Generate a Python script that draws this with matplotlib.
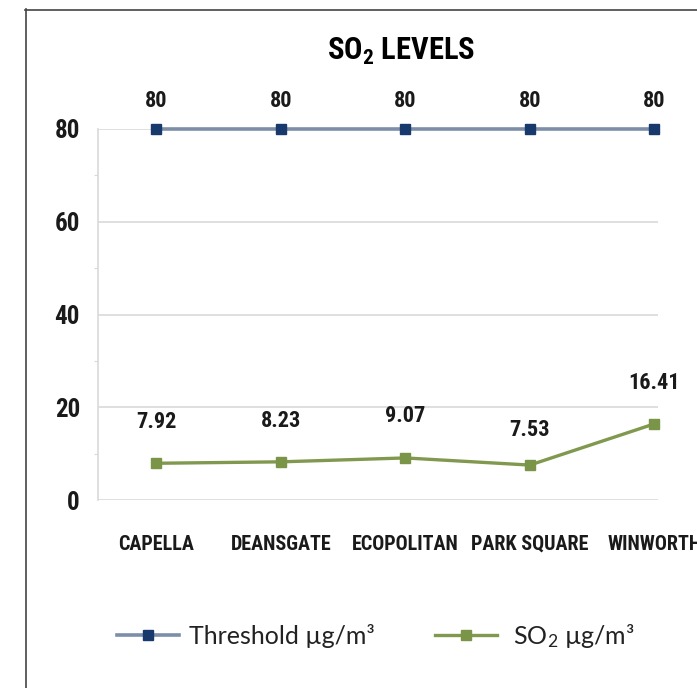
import matplotlib
matplotlib.use("Agg")
import matplotlib.pyplot as plt
from matplotlib.lines import Line2D
from matplotlib import font_manager

categories = ["CAPELLA", "DEANSGATE", "ECOPOLITAN", "PARK SQUARE", "WINWORTH"]
threshold = [80, 80, 80, 80, 80]
so2 = [7.92, 8.23, 9.07, 7.53, 16.41]
yticks = [0, 20, 40, 60, 80]

plt.rcParams['mathtext.default'] = 'regular'

fonts = font_manager.fontManager.ttflist
names = {f.name for f in fonts}
COND_STRETCH = 'normal'
COND = ['DejaVu Sans']
for cand in ['Liberation Sans Narrow', 'Roboto Condensed', 'Open Sans Condensed',
             'DejaVu Sans Condensed', 'Noto Sans Condensed']:
    if cand in names:
        COND = [cand, 'DejaVu Sans']
        break
else:
    if any(f.name == 'DejaVu Sans' and f.stretch == 'condensed' for f in fonts):
        COND = ['DejaVu Sans']
        COND_STRETCH = 'condensed'
    elif any(f.name == 'Roboto' and str(f.stretch) in ('condensed', '75', 'semi-condensed') for f in fonts):
        COND = ['Roboto', 'DejaVu Sans']
        COND_STRETCH = 'condensed'
    else:
        COND = ['Roboto', 'DejaVu Sans']

LIGHT = ['Lato', 'DejaVu Sans']

def cfont(size):
    return dict(family=COND, fontweight='bold', fontsize=size, fontstretch=COND_STRETCH)

fig = plt.figure(figsize=(6.97, 6.88), dpi=100)
W, H = 697, 688
ax = fig.add_axes([98 / W, (H - 500) / H, 560 / W, 371 / H])

x = list(range(len(categories)))
navy = '#17396B'
green = '#7A9448'
ax.plot(x, threshold, color='#7D8EA8', lw=2.6, marker='s', markersize=7.5,
        markerfacecolor=navy, markeredgecolor=navy, zorder=3, clip_on=False,
        label='Threshold µg/m³')
ax.plot(x, so2, color='#80994F', lw=2.4, marker='s', markersize=7.5,
        markerfacecolor=green, markeredgecolor=green, zorder=3, clip_on=False,
        label=' SO$_2$ µg/m³')

ax.set_xlim(-0.47, 4.03)
ax.set_ylim(0, 80)
ax.set_yticks(yticks)
ax.set_yticks([10, 30, 50, 70], minor=True)
ax.set_xticks(x)
ax.set_xticklabels(categories, color='#1a1a1a', **cfont(14.5))
ax.set_yticklabels([str(v) for v in yticks], color='#1a1a1a', **cfont(18))
ax.tick_params(axis='x', length=0, pad=25)
ax.tick_params(axis='y', which='major', length=0, pad=13)
ax.tick_params(axis='y', which='minor', length=3, color='#D9D9D9', width=0.8)
ax.grid(axis='y', color='#D9D9D9', lw=1.2)
ax.set_axisbelow(True)
for s in ['top', 'right', 'bottom']:
    ax.spines[s].set_visible(False)
ax.spines['left'].set_color('#D9D9D9')
ax.spines['left'].set_linewidth(1.2)

for xi, v in zip(x, threshold):
    ax.annotate(f"{v}", (xi, v), xytext=(0, 20), textcoords='offset points',
                ha='center', va='center', color='#1a1a1a', **cfont(16))
so2_off = [29.5, 29.5, 30, 25, 29.5]
for xi, v, o in zip(x, so2, so2_off):
    ax.annotate(f"{v:.2f}", (xi, v), xytext=(0, o), textcoords='offset points',
                ha='center', va='center', color='#1a1a1a', **cfont(16))

fig.text(401 / W, 1 - 51 / H, 'SO$_2$ LEVELS', ha='center', va='center',
         color='#000000', **cfont(22))

# outer frame (left and top edges)
fig.add_artist(Line2D([25.5 / W, 25.5 / W], [0, 1 - 9 / H], transform=fig.transFigure,
                      color='#444444', lw=1.2))
fig.add_artist(Line2D([25 / W, 1], [1 - 9.5 / H, 1 - 9.5 / H], transform=fig.transFigure,
                      color='#444444', lw=1.2))

leg = fig.legend(loc='center', bbox_to_anchor=(376 / W, 1 - 636 / H), ncol=2,
                 frameon=False, prop={'family': LIGHT, 'size': 18},
                 handlelength=2.5, handletextpad=0.4, columnspacing=2.4)
for t in leg.get_texts():
    t.set_color('#222222')

fig.savefig('out.png', dpi=100)
